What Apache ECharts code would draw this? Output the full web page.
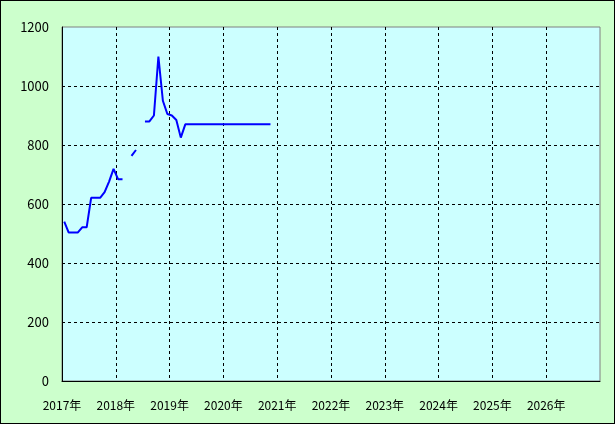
<!DOCTYPE html>
<html>
<head>
<meta charset="utf-8">
<script src="https://cdn.jsdelivr.net/npm/echarts@6/dist/echarts.min.js"></script>
<style>
html,body{margin:0;padding:0;background:#CCFFCC;}
#c{width:613px;height:422px;border:1px solid #000;background:#CCFFCC;}
</style>
</head>
<body>
<div id="c"></div>
<script>
// monthly series, "YYYY-MM"
const months = [
  "2017-01","2017-02","2017-03","2017-04","2017-05","2017-06","2017-07","2017-08","2017-09","2017-10","2017-11","2017-12",
  "2018-01","2018-02","2018-03","2018-04","2018-05","2018-06","2018-07","2018-08","2018-09","2018-10","2018-11","2018-12",
  "2019-01","2019-02","2019-03","2019-04","2019-05","2019-06","2019-07","2019-08","2019-09","2019-10","2019-11","2019-12",
  "2020-01","2020-02","2020-03","2020-04","2020-05","2020-06","2020-07","2020-08","2020-09","2020-10","2020-11"
];
const values = [
  540,503,503,503,521,521,621,621,621,640,676,719,
  684,684,null,763,783,null,880,880,900,1100,950,905,
  900,885,825,870,870,870,870,870,870,870,870,870,
  870,870,870,870,870,870,870,870,870,870,870
];
const yearLabels = ["2017","2018","2019","2020","2021","2022","2023","2024","2025","2026"];
const yTicks = [0,200,400,600,800,1000,1200];

const font = '"Noto Sans CJK JP", "DejaVu Sans", sans-serif';
const data = months.map((m,i)=>{
  const [y,mo] = m.split('-').map(Number);
  return [y + (mo - 0.5)/12, values[i]];
});

const chart = echarts.init(document.getElementById('c'));
chart.setOption({
  animation:false,
  backgroundColor:'#CCFFCC',
  grid:{left:61,right:14,top:26,bottom:42,show:true,backgroundColor:'#CCFFFF',borderColor:'#808080',borderWidth:1},
  xAxis:{
    type:'value',min:2017,max:2027,interval:1,
    axisLine:{show:true,onZero:false,lineStyle:{color:'#000',width:1}},
    axisTick:{show:false},
    axisLabel:{color:'#000',fontFamily:font,fontSize:12,margin:18,showMaxLabel:false,
      formatter:v=>{const s=String(Math.round(v));return yearLabels.includes(s)?s+'年':'';}},
    splitLine:{show:true,showMinLine:false,showMaxLine:false,lineStyle:{color:'#000',type:[3,3],width:1}}
  },
  yAxis:{
    type:'value',min:yTicks[0],max:yTicks[yTicks.length-1],interval:200,
    axisLine:{show:true,lineStyle:{color:'#000',width:1}},
    axisTick:{show:false},
    axisLabel:{color:'#000',fontFamily:font,fontSize:13,margin:13,formatter:v=>String(v)},
    splitLine:{show:true,showMinLine:false,showMaxLine:false,lineStyle:{color:'#000',type:[3,3],width:1}}
  },
  series:[{
    type:'line',data:data,showSymbol:false,connectNulls:false,
    lineStyle:{color:'#0000FF',width:2},
    itemStyle:{color:'#0000FF'}
  }]
});
</script>
</body>
</html>
